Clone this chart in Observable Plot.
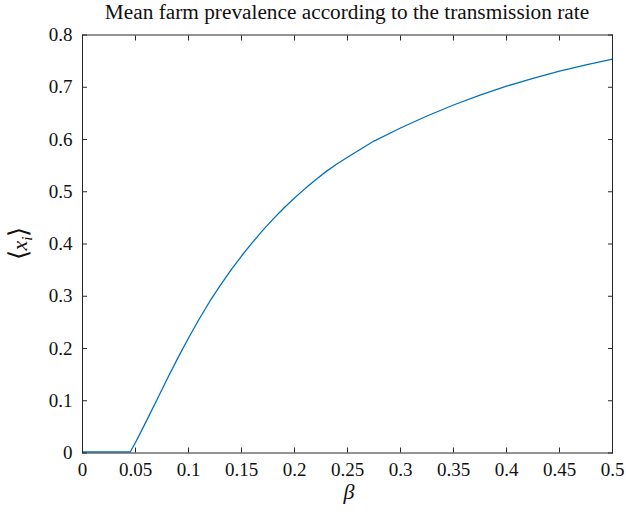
<!DOCTYPE html>
<html>
<head>
<meta charset="utf-8">
<script src="https://cdn.jsdelivr.net/npm/d3@7"></script>
<script src="https://cdn.jsdelivr.net/npm/@observablehq/plot@0.6"></script>
<style>
  html, body { margin: 0; padding: 0; background: #fff; }
  svg text { font-family: "Liberation Serif", "Times New Roman", serif; }
</style>
</head>
<body>
<div id="chart"></div>
<script>
// Transmission rate β and the mean farm prevalence ⟨x_i⟩ reached at each rate
const beta = [0, 0.045, 0.05, 0.06, 0.07, 0.08, 0.09, 0.10, 0.11, 0.12, 0.13, 0.14, 0.15, 0.16,
  0.17, 0.18, 0.19, 0.20, 0.21, 0.22, 0.23, 0.24, 0.25, 0.275, 0.30, 0.325, 0.35, 0.375, 0.40,
  0.425, 0.45, 0.475, 0.50];
const prevalence = [0.002, 0.002, 0.020, 0.060, 0.101, 0.142, 0.182, 0.220, 0.256, 0.290, 0.321,
  0.350, 0.377, 0.402, 0.426, 0.448, 0.469, 0.488, 0.506, 0.523, 0.539, 0.553, 0.566, 0.597,
  0.622, 0.645, 0.666, 0.685, 0.702, 0.717, 0.731, 0.743, 0.754];

const xTicks = [0, 0.05, 0.1, 0.15, 0.2, 0.25, 0.3, 0.35, 0.4, 0.45, 0.5];
const yTicks = [0, 0.1, 0.2, 0.3, 0.4, 0.5, 0.6, 0.7, 0.8];

const titleText = "Mean farm prevalence according to the transmission rate";

const rows = beta.map((b, i) => ({beta: b, value: prevalence[i]}));

const W = 626, H = 520;
const margin = {top: 34.5, right: 14, bottom: 67.5, left: 82};
const axisColor = "#262626";
const serif = "Liberation Serif";

const svg = Plot.plot({
  width: W,
  height: H,
  marginTop: margin.top,
  marginRight: margin.right,
  marginBottom: margin.bottom,
  marginLeft: margin.left,
  style: {background: "#fff"},
  x: {domain: [0, 0.5]},
  y: {domain: [0, 0.8]},
  marks: [
    Plot.axisX({anchor: "bottom", ticks: xTicks, tickSize: -5, tickPadding: 14, tickFormat: d => String(d),
      label: null, stroke: axisColor, fill: "#111", fontFamily: serif, fontSize: 19}),
    Plot.axisX({anchor: "top", ticks: xTicks, tickSize: -5, fill: "none", label: null, stroke: axisColor}),
    Plot.axisY({anchor: "left", ticks: yTicks, tickSize: -5, tickPadding: 15, tickFormat: d => String(d),
      label: null, stroke: axisColor, fill: "#111", fontFamily: serif, fontSize: 19}),
    Plot.axisY({anchor: "right", ticks: yTicks, tickSize: -5, fill: "none", label: null, stroke: axisColor}),
    Plot.line(rows, {x: "beta", y: "value", stroke: "#0072BD", strokeWidth: 1.3}),
    Plot.frame({stroke: axisColor, strokeWidth: 1})
  ]
});

const root = d3.select(svg);
const cx = margin.left + (W - margin.left - margin.right) / 2;

// Title above the plot box
root.append("text")
  .attr("x", cx)
  .attr("y", 18.5)
  .attr("text-anchor", "middle")
  .attr("font-family", serif)
  .attr("font-size", 21.3)
  .attr("fill", "#111")
  .text(titleText);

// x-axis label: β
root.append("text")
  .attr("x", cx + 2)
  .attr("y", 499)
  .attr("text-anchor", "middle")
  .attr("font-family", serif)
  .attr("font-size", 22)
  .attr("font-style", "italic")
  .attr("fill", "#111")
  .text("β");

// y-axis label: ⟨x_i⟩
const yl = root.append("text")
  .attr("transform", `translate(27,${margin.top + (H - margin.top - margin.bottom) / 2}) rotate(-90)`)
  .attr("text-anchor", "middle")
  .attr("font-family", serif)
  .attr("font-size", 22)
  .attr("fill", "#111");
yl.append("tspan").attr("font-size", 26).text("⟨");
yl.append("tspan").attr("font-style", "italic").text("x");
yl.append("tspan").attr("font-style", "italic").attr("font-size", 15).attr("dy", 5).text("i");
yl.append("tspan").attr("dy", -5).attr("font-size", 26).text("⟩");

document.getElementById("chart").appendChild(svg);
</script>
</body>
</html>
